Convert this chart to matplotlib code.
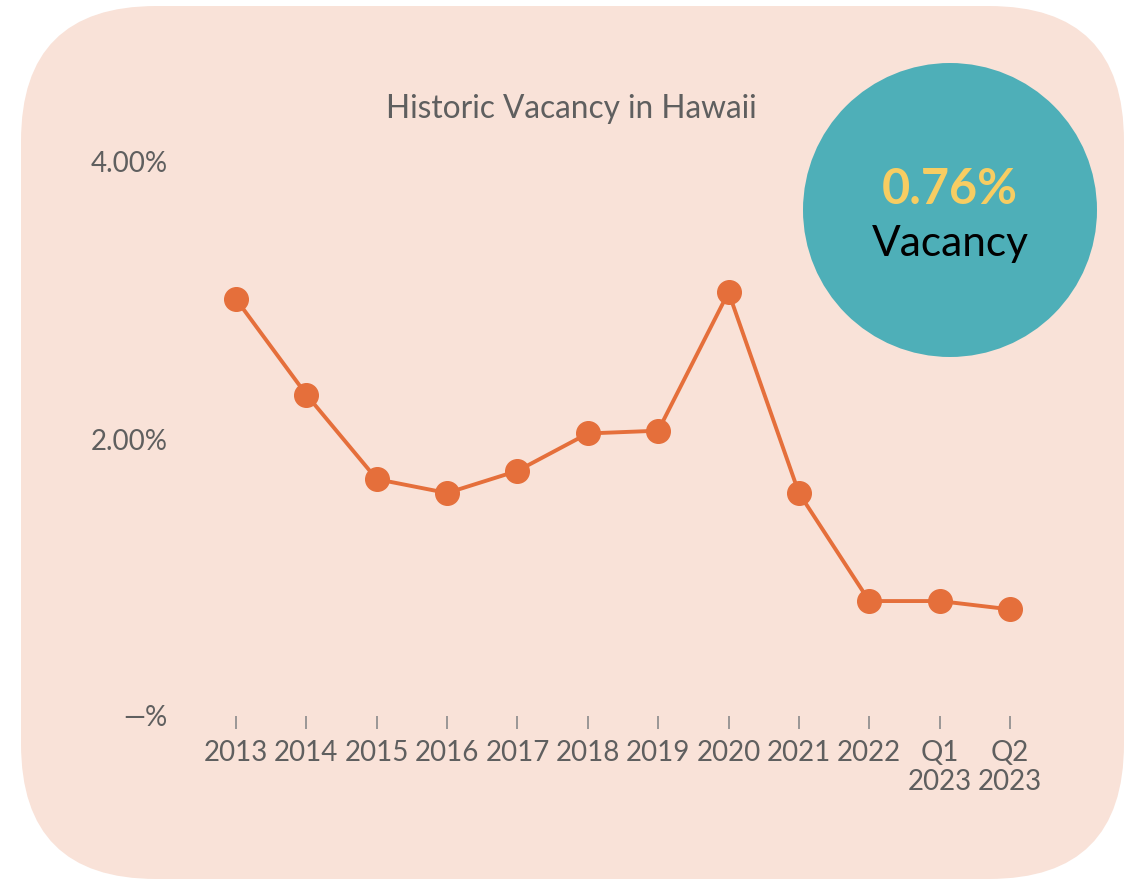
import matplotlib.pyplot as plt
from matplotlib.patches import FancyBboxPatch, Circle

labels = ['2013', '2014', '2015', '2016', '2017', '2018', '2019', '2020',
          '2021', '2022', 'Q1\n2023', 'Q2\n2023']
vacancy = [3.01, 2.32, 1.71, 1.61, 1.77, 2.04, 2.06, 3.06, 1.61, 0.83, 0.83, 0.77]
yticks = [0, 2, 4]
ytick_labels = ['\u2014%', '2.00%', '4.00%']
current = '0.76%'

plt.rcParams['font.family'] = ['Lato', 'DejaVu Sans']
grey = '#5f5f5f'
orange = '#e56f3b'

fig = plt.figure(figsize=(11.27, 8.81), dpi=100)
fig.patch.set_facecolor('white')

bg = FancyBboxPatch((0.21 + 1.35, 0.02 + 1.35), 11.03 - 2.7, 8.73 - 2.7,
                    boxstyle='round,pad=1.35', transform=fig.dpi_scale_trans,
                    facecolor='#f9e2d8', edgecolor='none', zorder=-5)
fig.patches.append(bg)

ax = fig.add_axes([193.8 / 1127, 165 / 881, (1052.2 - 193.8) / 1127, 554 / 881])
ax.set_facecolor('none')
x = list(range(len(labels)))
ax.plot(x, vacancy, color=orange, lw=2.8, marker='o', markersize=17, clip_on=False)
ax.set_xlim(-0.6, 11.6)
ax.set_ylim(0, 4)
ax.set_xticks(x)
ax.set_xticklabels(labels, fontsize=20, color=grey, linespacing=1.15)
ax.set_yticks(yticks)
ax.set_yticklabels(ytick_labels, fontsize=20, color=grey)
ax.tick_params(axis='y', length=0, pad=19)
ax.tick_params(axis='x', length=9, width=1.2, color='#8a8a8a', pad=8)
for s in ax.spines.values():
    s.set_visible(False)

fig.text(571 / 1127, 1 - 109 / 881, 'Historic Vacancy in Hawaii', fontsize=22.8,
         color=grey, ha='center', va='center')

circ = Circle((9.50, 6.71), 1.47, transform=fig.dpi_scale_trans,
              facecolor='#4eafb8', edgecolor='none', zorder=3)
fig.patches.append(circ)
fig.text(950 / 1127, 1 - 190 / 881, current, fontsize=35, fontweight='bold',
         color='#f7cd62', ha='center', va='center', zorder=4)
fig.text(950 / 1127, 1 - 244 / 881, 'Vacancy', fontsize=30.5, color='black',
         ha='center', va='center', zorder=4)

plt.savefig('out.png', dpi=100)
